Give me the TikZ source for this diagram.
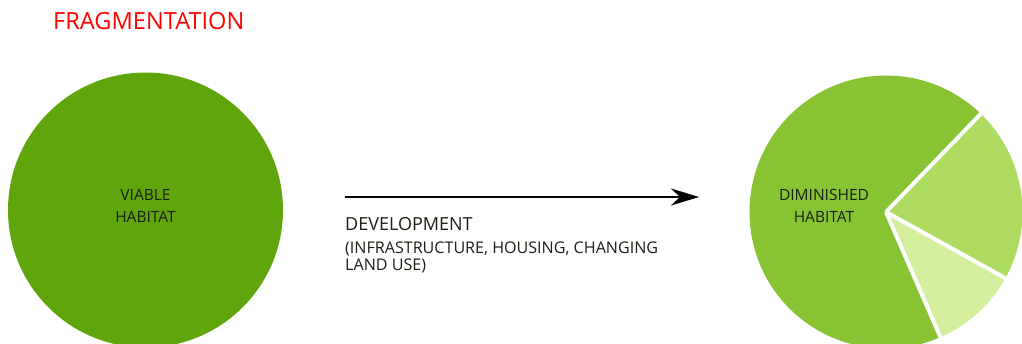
\documentclass[tikz,border=0pt]{standalone}
\usepackage{fontspec}
\setmainfont{Open Sans}
\usetikzlibrary{arrows.meta}
\definecolor{viablegreen}{HTML}{5FA50B}
\definecolor{mainpie}{HTML}{87C332}
\definecolor{midpie}{HTML}{AEDC60}
\definecolor{lightpie}{HTML}{D3EE9C}
\definecolor{labeltext}{HTML}{1A1F14}
\begin{document}
\begin{tikzpicture}[>={Stealth[length=28pt, width=17pt, inset=9pt]}, x=1pt, y=1pt,
    label/.style={text=labeltext, align=center, font=\fontsize{15.5}{22}\selectfont},
    devtext/.style={text=labeltext, align=left, inner sep=0pt, anchor=base west}]
    \useasboundingbox (0,0) rectangle (1022,343);

    % タイトル
    \node[anchor=base west, inner sep=0pt, text=red, font=\fontsize{23.6}{28}\selectfont] (title) at (53,313) {FRAGMENTATION};

    % 元の生息地
    \node[circle, fill=viablegreen, minimum size=275pt, inner sep=0pt] (viable) at (145.5,133) {};
    \node[label] (viabletext) at ([yshift=4pt]viable.center) {VIABLE\\HABITAT};

    % 矢印と説明
    \coordinate (devstart) at (345,146);
    \coordinate (devend) at (699,146);
    \draw[->, line width=2.8pt] (devstart) -- (devend);
    \node[devtext, font=\fontsize{18}{20}\selectfont] (devtitle) at (345,113) {DEVELOPMENT};
    \node[devtext, font=\fontsize{16.1}{16.5}\selectfont] (devnote) at (345,73) {(INFRASTRUCTURE, HOUSING, CHANGING\\LAND USE)};

    % 分断後の生息地
    \coordinate (piecenter) at (886,131);
    \fill[mainpie] (piecenter) -- +(46:136.5) arc[start angle=46, end angle=293.5, radius=136.5] -- cycle;
    \fill[midpie] (piecenter) -- +(-29:136.5) arc[start angle=-29, end angle=46, radius=136.5] -- cycle;
    \fill[lightpie] (piecenter) -- +(-66.5:136.5) arc[start angle=-66.5, end angle=-29, radius=136.5] -- cycle;
    \foreach \a in {46,-29,-66.5} \draw[white, line width=4pt] (piecenter) -- +(\a:138);
    \node[label] (diminished) at (824,137) {DIMINISHED\\HABITAT};
\end{tikzpicture}
\end{document}
